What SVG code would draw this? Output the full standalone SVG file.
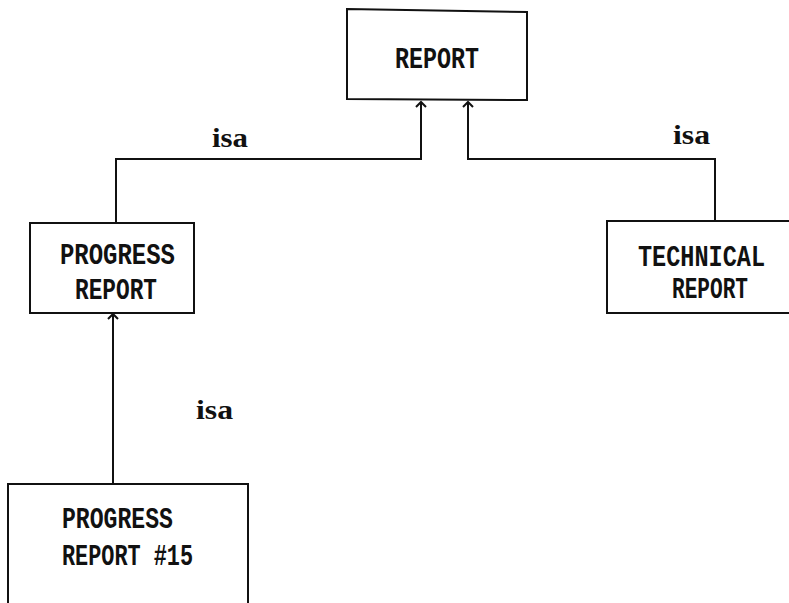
<svg xmlns="http://www.w3.org/2000/svg" width="789" height="603" viewBox="0 0 789 603">
<style>
.box{fill:#fff;stroke:#111;stroke-width:2}
.t{font-family:"Liberation Mono","DejaVu Sans Mono",monospace;font-size:30px;font-weight:bold;fill:#111}
.lbl{font-family:"Liberation Serif","DejaVu Serif",serif;font-size:27px;font-weight:bold;fill:#111}
.con{fill:none;stroke:#111;stroke-width:2}
</style>
<defs>
<marker id="arr" viewBox="-6 -6 12 12" markerWidth="12" markerHeight="12" markerUnits="userSpaceOnUse" refX="0" refY="0" orient="auto">
<path d="M-5,-5 L0,0 L-5,5" fill="none" stroke="#111" stroke-width="2"/>
</marker>
</defs>
<rect width="789" height="603" fill="#fff"/>
<g id="connectors">
<path class="con" d="M116,223 V159 H421 V102" marker-end="url(#arr)"/>
<path class="con" d="M715,220 V159 H468 V102" marker-end="url(#arr)"/>
<path class="con" d="M113,484 V314" marker-end="url(#arr)"/>
<text class="lbl" x="212" y="147" textLength="36" lengthAdjust="spacingAndGlyphs">isa</text>
<text class="lbl" x="673" y="144" textLength="37" lengthAdjust="spacingAndGlyphs">isa</text>
<text class="lbl" x="196" y="419" textLength="37" lengthAdjust="spacingAndGlyphs">isa</text>
</g>
<g id="report">
<path class="box" d="M347,9 L527,12 L527,100 L347,99 Z"/>
<text class="t" x="395" y="68" textLength="84" lengthAdjust="spacingAndGlyphs">REPORT</text>
</g>
<g id="progress-report">
<rect class="box" x="30" y="223" width="164" height="90"/>
<text class="t" x="60" y="264" textLength="115" lengthAdjust="spacingAndGlyphs">PROGRESS</text>
<text class="t" x="75" y="299" textLength="82" lengthAdjust="spacingAndGlyphs">REPORT</text>
</g>
<g id="technical-report">
<path class="box" d="M789,221 H607 V313 H789"/>
<text class="t" x="638" y="266" textLength="127" lengthAdjust="spacingAndGlyphs">TECHNICAL</text>
<text class="t" x="672" y="298" textLength="76" lengthAdjust="spacingAndGlyphs">REPORT</text>
</g>
<g id="progress-report-15">
<path class="box" d="M8,603 V484 H248 V603"/>
<text class="t" x="62" y="528" textLength="111" lengthAdjust="spacingAndGlyphs">PROGRESS</text>
<text class="t" x="62" y="565" textLength="131" lengthAdjust="spacingAndGlyphs">REPORT #15</text>
</g>
</svg>
